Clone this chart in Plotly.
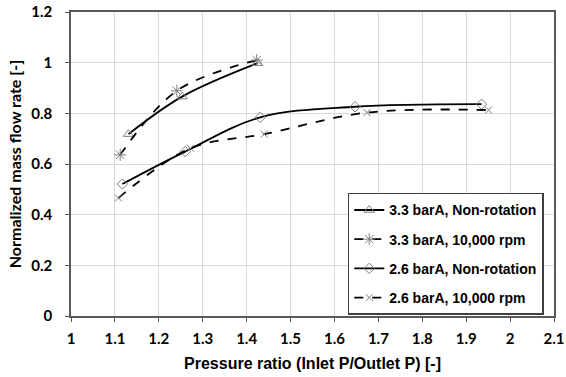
import plotly.graph_objects as go

# Data
names = ["3.3 barA, Non-rotation", "3.3 barA, 10,000 rpm",
         "2.6 barA, Non-rotation", "2.6 barA, 10,000 rpm"]
x_33_nonrot = [1.131, 1.253, 1.425]
y_33_nonrot = [0.718, 0.866, 0.998]
x_33_rpm = [1.112, 1.241, 1.423]
y_33_rpm = [0.636, 0.889, 1.010]
x_26_nonrot = [1.117, 1.260, 1.431, 1.647, 1.935]
y_26_nonrot = [0.521, 0.649, 0.784, 0.826, 0.836]
x_26_rpm = [1.108, 1.272, 1.440, 1.674, 1.951]
y_26_rpm = [0.466, 0.662, 0.718, 0.803, 0.813]

x_ticks = [1, 1.1, 1.2, 1.3, 1.4, 1.5, 1.6, 1.7, 1.8, 1.9, 2, 2.1]
x_tick_labels = ["1", "1.1", "1.2", "1.3", "1.4", "1.5", "1.6", "1.7", "1.8", "1.9", "2", "2.1"]
y_ticks = [0, 0.2, 0.4, 0.6, 0.8, 1, 1.2]
y_tick_labels = ["0", "0.2", "0.4", "0.6", "0.8", "1", "1.2"]

series = [
    (x_33_nonrot, y_33_nonrot, "solid", "triangle-up-open", 9),
    (x_33_rpm, y_33_rpm, "dash", "asterisk-open", 10),
    (x_26_nonrot, y_26_nonrot, "solid", "diamond-open", 8),
    (x_26_rpm, y_26_rpm, "dash", "x-thin-open", 7),
]

fig = go.Figure()
for i, (xs, ys, dash, sym, sz) in enumerate(series):
    fig.add_trace(go.Scatter(
        x=xs, y=ys, name=names[i], mode="lines+markers",
        legendgroup=str(i),
        line=dict(color="black", width=1.8, dash=dash, shape="spline", smoothing=1.0),
        marker=dict(symbol=sym, size=sz, color="#7f7f7f",
                    line=dict(color="#7f7f7f", width=1)),
    ))

axis_common = dict(
    showgrid=True, gridcolor="#d9d9d9", gridwidth=1.3,
    showline=True, linecolor="#595959", linewidth=1.5, mirror=True,
    ticks="outside", ticklen=4, tickcolor="#595959", tickwidth=1.3,
    zeroline=False, automargin=False,
    tickfont=dict(family="Lato", size=15, color="black", weight="bold"),
)

fig.update_xaxes(
    range=[1, 2.1], tickvals=x_ticks, ticktext=x_tick_labels,
    ticklabelstandoff=4,
    title=dict(text="<b>Pressure ratio (Inlet P/Outlet P) [-]</b>",
               font=dict(family="Liberation Sans", size=16, color="black"), standoff=12),
    **axis_common,
)
fig.update_yaxes(
    range=[0, 1.2], tickvals=y_ticks, ticktext=y_tick_labels,
    ticklabelstandoff=10,
    title=dict(text="<b>Normalized mass flow rate [-]</b>",
               font=dict(family="Lato", size=16, color="black"), standoff=6),
    **axis_common,
)

fig.update_layout(
    width=566, height=377,
    margin=dict(l=71, r=12, t=12, b=61),
    paper_bgcolor="white", plot_bgcolor="white",
    showlegend=True,
    legend=dict(
        x=0.573, y=0.405, xanchor="left", yanchor="top",
        bgcolor="white", bordercolor="#404040", borderwidth=1.5,
        font=dict(family="Liberation Sans", size=14, color="black", weight="bold"),
        traceorder="grouped", tracegroupgap=8, itemwidth=30,
    ),
)

# remove the default page margin so the figure fills the window exactly
fig.write_html("out.html",
               config={"displayModeBar": False},
               post_script="document.body.style.margin='0';document.body.style.overflow='hidden';")
